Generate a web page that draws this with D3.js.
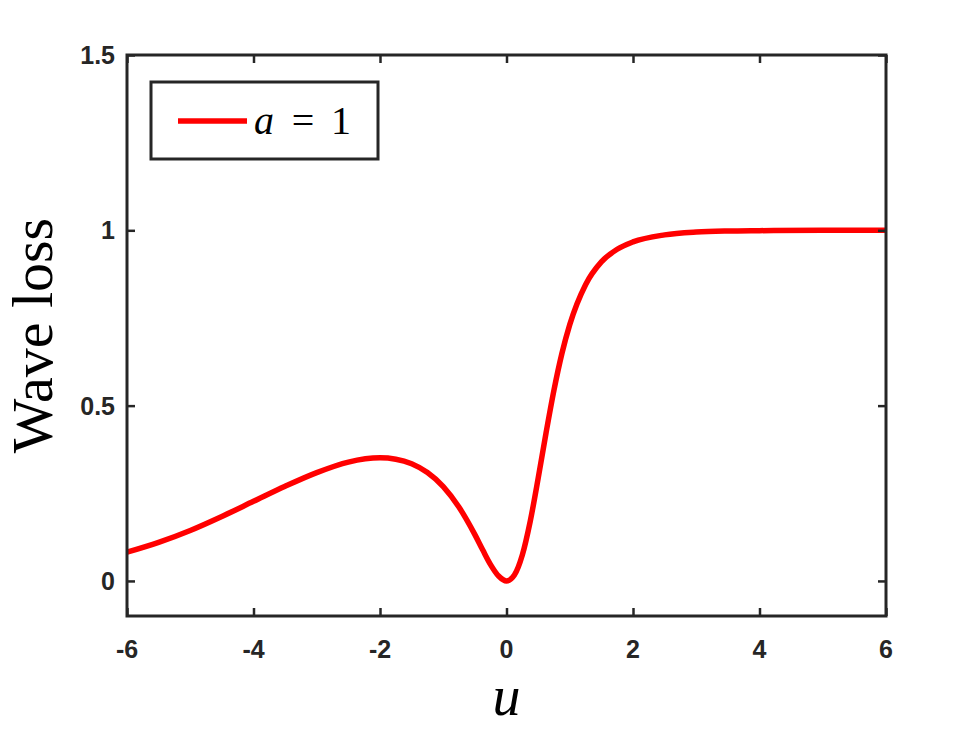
<!DOCTYPE html>
<html>
<head>
<meta charset="utf-8">
<script src="https://cdn.jsdelivr.net/npm/d3@7"></script>
<style>
  body { margin: 0; background: #fff; }
</style>
</head>
<body>
<svg id="chart" width="980" height="735"></svg>
<script>
// values
var uValues = [-6, -5.5, -5, -4.5, -4, -3.5, -3, -2.5, -2, -1.75, -1.5, -1.25, -1, -0.75, -0.5, -0.375, -0.25, -0.125,
    0, 0.125, 0.25, 0.375, 0.5, 0.625, 0.75, 0.875, 1, 1.25, 1.5, 1.75, 2, 2.5, 3, 3.5, 4, 5, 6];
var lossValues = [0.082, 0.110, 0.144, 0.184, 0.227, 0.270, 0.309, 0.339, 0.351, 0.347, 0.334, 0.309, 0.269, 0.210, 0.132, 0.088, 0.046, 0.014,
    0, 0.017, 0.074, 0.170, 0.292, 0.422, 0.544, 0.648, 0.731, 0.845, 0.910, 0.946, 0.967, 0.987, 0.995, 0.998, 0.999, 1.0, 1.0];
var xTicks = [-6, -4, -2, 0, 2, 4, 6];
var yTicks = [0, 0.5, 1, 1.5];
var seriesName = "a";
var seriesValue = "1";

var sansFont = "Liberation Sans";
var serifFont = "Liberation Serif";

var margin = {top: 55, right: 94, bottom: 119, left: 127};
var svg = d3.select("#chart");
var width = 980 - margin.left - margin.right;
var height = 735 - margin.top - margin.bottom;

var x = d3.scaleLinear().domain([-6, 6]).range([0, width]);
var y = d3.scaleLinear().domain([-0.1, 1.5]).range([height, 0]);

var g = svg.append("g")
    .attr("transform", "translate(" + margin.left + "," + margin.top + ")");

var points = uValues.map(function (u, i) {
    return {u: u, v: lossValues[i]};
});

// the curve
var line = d3.line()
    .x(function (d) { return x(d.u); })
    .y(function (d) { return y(d.v); })
    .curve(d3.curveMonotoneX);

g.append("path")
    .datum(points)
    .attr("d", line)
    .attr("fill", "none")
    .attr("stroke", "#ff0000")
    .attr("stroke-width", 5.5)
    .attr("stroke-linejoin", "round");

// axes, ticks pointing inward on all four sides
var tickLen = 8;
function styleAxis(sel) {
    sel.select(".domain").remove();
    sel.selectAll(".tick line").attr("stroke", "#262626").attr("stroke-width", 2.5);
}

g.append("g")
    .attr("transform", "translate(0," + height + ")")
    .call(d3.axisBottom(x).tickValues(xTicks).tickSizeInner(-tickLen).tickSizeOuter(0).tickFormat(""))
    .call(styleAxis);
g.append("g")
    .call(d3.axisTop(x).tickValues(xTicks).tickSizeInner(-tickLen).tickSizeOuter(0).tickFormat(""))
    .call(styleAxis);
g.append("g")
    .call(d3.axisLeft(y).tickValues(yTicks).tickSizeInner(-tickLen).tickSizeOuter(0).tickFormat(""))
    .call(styleAxis);
g.append("g")
    .attr("transform", "translate(" + width + ",0)")
    .call(d3.axisRight(y).tickValues(yTicks).tickSizeInner(-tickLen).tickSizeOuter(0).tickFormat(""))
    .call(styleAxis);

// frame
g.append("rect")
    .attr("x", 0).attr("y", 0)
    .attr("width", width).attr("height", height)
    .attr("fill", "none")
    .attr("stroke", "#262626")
    .attr("stroke-width", 3);

// tick labels
g.selectAll(".xlab")
    .data(xTicks)
    .enter().append("text")
    .attr("x", function (d) { return x(d); })
    .attr("y", height + 42)
    .attr("text-anchor", "middle")
    .attr("font-family", sansFont)
    .attr("font-weight", "bold")
    .attr("font-size", 25)
    .attr("fill", "#262626")
    .text(function (d) { return d; });

g.selectAll(".ylab")
    .data(yTicks)
    .enter().append("text")
    .attr("x", -12)
    .attr("y", function (d) { return y(d) + 9; })
    .attr("text-anchor", "end")
    .attr("font-family", sansFont)
    .attr("font-weight", "bold")
    .attr("font-size", 25)
    .attr("fill", "#262626")
    .text(function (d) { return d; });

// axis titles
svg.append("text")
    .attr("x", margin.left + x(0))
    .attr("y", 715)
    .attr("text-anchor", "middle")
    .attr("font-family", serifFont)
    .attr("font-style", "italic")
    .attr("font-size", 56)
    .text("u");

svg.append("text")
    .attr("transform", "translate(52," + (margin.top + height / 2) + ") rotate(-90)")
    .attr("text-anchor", "middle")
    .attr("font-family", serifFont)
    .attr("font-size", 58)
    .text("Wave loss");

// legend
var legend = g.append("g").attr("transform", "translate(24,27)");
legend.append("rect")
    .attr("width", 227).attr("height", 77)
    .attr("fill", "#fff")
    .attr("stroke", "#262626")
    .attr("stroke-width", 3);
legend.append("line")
    .attr("x1", 27).attr("x2", 96)
    .attr("y1", 39).attr("y2", 39)
    .attr("stroke", "#ff0000")
    .attr("stroke-width", 5.5);
legend.append("text")
    .attr("x", 103).attr("y", 52)
    .attr("font-family", serifFont)
    .attr("font-size", 40)
    .attr("font-style", "italic")
    .text(seriesName);
legend.append("text")
    .attr("x", 152).attr("y", 52)
    .attr("text-anchor", "middle")
    .attr("font-family", serifFont)
    .attr("font-size", 40)
    .text("=");
legend.append("text")
    .attr("x", 190).attr("y", 52)
    .attr("text-anchor", "middle")
    .attr("font-family", serifFont)
    .attr("font-size", 40)
    .text(seriesValue);
</script>
</body>
</html>
